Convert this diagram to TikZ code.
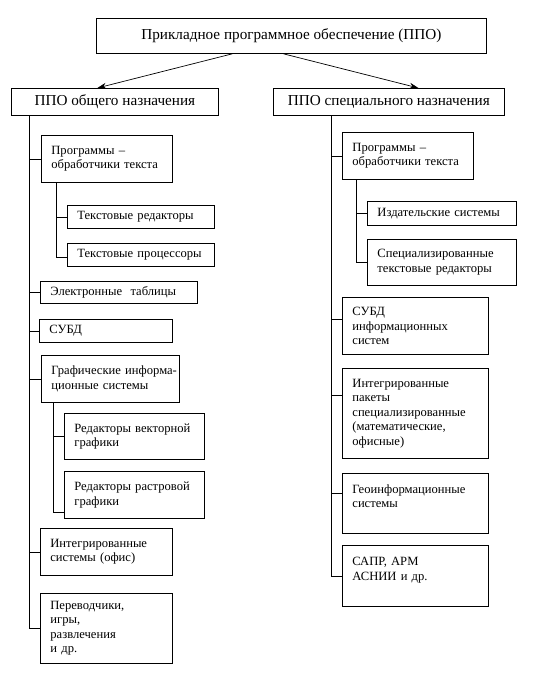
\documentclass[tikz,border=0pt]{standalone}
\usepackage{fontspec}
\setmainfont{Liberation Serif}
\usetikzlibrary{arrows.meta}

\begin{document}
\begin{tikzpicture}[x=1pt,y=-1pt,>={Stealth[length=9pt,width=6pt]},
        hdr/.style={draw,line width=0.8pt,anchor=north west,inner sep=0pt,
          font=\fontsize{15.2}{18}\selectfont},
        blk/.style 2 args={draw,line width=0.8pt,anchor=north west,align=left,
          inner xsep=10pt,inner ysep=0pt,text width=#1,minimum height=#2,
          font=\fontsize{12.6}{14.5}\selectfont},
        lnk/.style={line width=0.7pt}]

  \useasboundingbox[fill=white] (0,0) rectangle (535,684);

  \node[hdr,minimum width=390pt,minimum height=35pt] (ppo) at (96,18)
    {Прикладное программное обеспечение (ППО)};
  \node[hdr,minimum width=207pt,minimum height=27pt] (gen) at (11,88)
    {ППО общего назначения};
  \node[hdr,minimum width=231pt,minimum height=27pt] (spec) at (273,88)
    {ППО специального назначения};

  % general purpose
  \node[blk={111pt}{47pt}] (g1) at (41,135) {Программы –\\обработчики текста};
  \node[blk={127pt}{23pt}] (g1a) at (67,205) {Текстовые редакторы};
  \node[blk={127pt}{23pt}] (g1b) at (67,243) {\mbox{Текстовые процессоры}};
  \node[blk={137pt}{22pt}] (g2) at (40,281) {Электронные\ \ таблицы};
  \node[blk={113pt}{23pt}] (g3) at (39,319) {СУБД};
  \node[blk={118pt}{47pt}] (g4) at (41,355) {\mbox{Графические информа-}\\ционные системы};
  \node[blk={120pt}{46pt}] (g4a) at (64,413) {Редакторы векторной\\графики};
  \node[blk={120pt}{47pt}] (g4b) at (64,471) {Редакторы растровой\\графики};
  \node[blk={112pt}{47pt}] (g5) at (40,528) {Интегрированные\\системы (офис)};
  \node[blk={112pt}{70pt}] (g6) at (40,593) {Переводчики,\\игры,\\развлечения\\и др.};

  % special purpose
  \node[blk={111pt}{47pt}] (s1) at (342,132) {Программы –\\обработчики текста};
  \node[blk={129pt}{24pt}] (s1a) at (367,201) {Издательские системы};
  \node[blk={129pt}{46pt}] (s1b) at (367,239) {Специализированные\\текстовые редакторы};
  \node[blk={126pt}{57pt}] (s2) at (342,297) {СУБД\\информационных\\систем};
  \node[blk={126pt}{90pt}] (s3) at (342,368)
    {Интегрированные\\пакеты\\специализированные\\(математические,\\офисные)};
  \node[blk={126pt}{60pt}] (s4) at (342,473) {Геоинформационные\\системы\\\mbox{}};
  \node[blk={126pt}{61pt}] (s5) at (342,545) {САПР, АРМ\\АСНИИ и др.\\\mbox{}};

  \draw[->,lnk] ([xshift=-59pt]ppo.south) -- ([xshift=-17.5pt]gen.north);
  \draw[->,lnk] ([xshift=-8pt]ppo.south) -- ([xshift=29.5pt]spec.north);

  \coordinate (gt) at ([xshift=18pt]gen.south west);
  \coordinate (st) at ([xshift=58pt]spec.south west);
  \coordinate (g1t) at ([xshift=15pt]g1.south west);
  \coordinate (g4t) at ([xshift=12pt]g4.south west);
  \coordinate (s1t) at ([xshift=14pt]s1.south west);

  \draw[lnk] (gt) |- (g1.west);
  \draw[lnk] (gt) |- (g2.west);
  \draw[lnk] (gt) |- (g3.west);
  \draw[lnk] (gt) |- (g4.west);
  \draw[lnk] (gt) |- (g5.west);
  \draw[lnk] (gt) |- (g6.west);
  \draw[lnk] (g1t) |- (g1a.west);
  \draw[lnk] (g1t) |- ([yshift=-2.5pt]g1b.west);
  \draw[lnk] (g4t) |- (g4a.west);
  \draw[lnk] (g4t) |- ([yshift=-17.5pt]g4b.west);

  \draw[lnk] (st) |- (s1.west);
  \draw[lnk] (st) |- ([yshift=6.5pt]s2.west);
  \draw[lnk] (st) |- ([yshift=18pt]s3.west);
  \draw[lnk] (st) |- ([yshift=10pt]s4.west);
  \draw[lnk] (st) |- (s5.west);
  \draw[lnk] (s1t) |- (s1a.west);
  \draw[lnk] (s1t) |- (s1b.west);

\end{tikzpicture}
\end{document}
